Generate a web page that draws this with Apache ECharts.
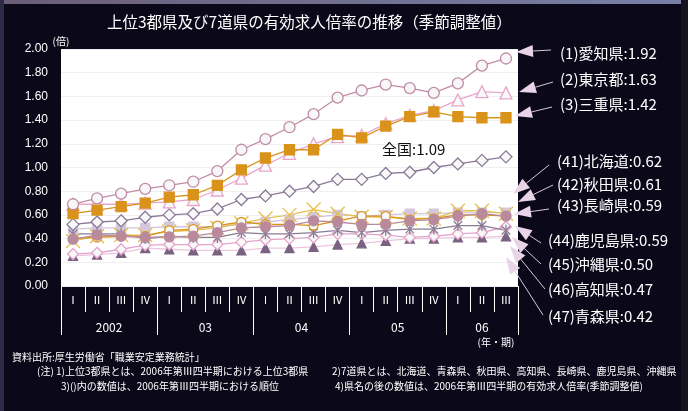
<!DOCTYPE html>
<html><head><meta charset="utf-8">
<script src="https://cdn.jsdelivr.net/npm/echarts@6.0.0/dist/echarts.min.js"></script>
<style>html,body{margin:0;padding:0;background:#0b0919;}#c{width:688px;height:411px;}</style>
</head><body><div id="c"></div>
<script>
// ---------- data ----------
const quarters = ['Ⅰ','Ⅱ','Ⅲ','Ⅳ','Ⅰ','Ⅱ','Ⅲ','Ⅳ','Ⅰ','Ⅱ','Ⅲ','Ⅳ','Ⅰ','Ⅱ','Ⅲ','Ⅳ','Ⅰ','Ⅱ','Ⅲ'];
const yearLabels = ['2002','03','04','05','06'];
const yearBounds = [0,4,8,12,16,19];

const aichi     = [0.69,0.74,0.78,0.82,0.85,0.88,0.97,1.15,1.24,1.34,1.45,1.59,1.65,1.70,1.67,1.63,1.71,1.86,1.92];
const tokyo     = [0.69,0.69,0.69,0.70,0.71,0.73,0.81,0.91,1.02,1.12,1.20,1.26,1.27,1.37,1.44,1.48,1.57,1.64,1.63];
const mie       = [0.61,0.64,0.67,0.70,0.75,0.77,0.85,0.98,1.08,1.15,1.15,1.28,1.25,1.35,1.43,1.47,1.43,1.42,1.42];
const zenkoku   = [0.52,0.54,0.55,0.58,0.60,0.61,0.65,0.73,0.76,0.80,0.84,0.90,0.90,0.95,0.96,1.00,1.03,1.06,1.09];
const hokkaido  = [0.48,0.49,0.49,0.49,0.50,0.50,0.50,0.52,0.54,0.56,0.58,0.60,0.59,0.60,0.61,0.61,0.62,0.62,0.62];
const akita     = [0.38,0.42,0.43,0.43,0.46,0.47,0.49,0.53,0.57,0.60,0.645,0.61,0.585,0.58,0.57,0.57,0.635,0.635,0.61];
const nagasaki  = [0.40,0.41,0.42,0.42,0.47,0.48,0.51,0.54,0.52,0.52,0.51,0.55,0.59,0.59,0.56,0.57,0.60,0.60,0.59];
const kagoshima = [0.395,0.43,0.42,0.41,0.415,0.42,0.45,0.49,0.50,0.51,0.55,0.54,0.52,0.52,0.55,0.56,0.59,0.61,0.59];
const okinawa   = [0.27,0.28,0.31,0.345,0.35,0.35,0.35,0.37,0.39,0.40,0.41,0.44,0.44,0.43,0.41,0.42,0.44,0.45,0.50];
const kochi     = [0.44,0.44,0.44,0.40,0.42,0.41,0.41,0.45,0.44,0.44,0.45,0.47,0.45,0.47,0.48,0.48,0.51,0.51,0.47];
const aomori    = [0.255,0.265,0.28,0.32,0.31,0.30,0.30,0.30,0.32,0.32,0.33,0.35,0.36,0.38,0.40,0.40,0.41,0.41,0.42];

const calloutNames  = ['(1)愛知県','(2)東京都','(3)三重県','(41)北海道','(42)秋田県','(43)長崎県','(44)鹿児島県','(45)沖縄県','(46)高知県','(47)青森県'];
const calloutValues = [1.92,1.63,1.42,0.62,0.61,0.59,0.59,0.50,0.47,0.42];
const nationalLabel = '全国';
const nationalValue = 1.09;

const titleText = '上位3都県及び7道県の有効求人倍率の推移（季節調整値）';
const notes = [
  '資料出所:厚生労働省「職業安定業務統計」',
  '(注) 1)上位3都県とは、2006年第Ⅲ四半期における上位3都県',
  '2)7道県とは、北海道、青森県、秋田県、高知県、長崎県、鹿児島県、沖縄県',
  '3)()内の数値は、2006年第Ⅲ四半期における順位',
  '4)県名の後の数値は、2006年第Ⅲ四半期の有効求人倍率(季節調整値)'
];

// ---------- styles / layout ----------
const JP = '"Noto Sans CJK JP", sans-serif';
const X_PATH = 'path://M0,0L10,10M10,0L0,10';
const AST_PATH = 'path://M0,0L10,10M10,0L0,10M5,-1.5L5,11.5';

const seriesDefs = [
  {name:'北海道', data:hokkaido, symbol:'rect', size:9, line:'#d4c6dc', fill:'#d4c6dc', border:'#d4c6dc'},
  {name:'青森県', data:aomori, symbol:'triangle', size:9, line:'#ecc6de', fill:'#7a6282', border:'#7a6282'},
  {name:'沖縄県', data:okinawa, symbol:'diamond', size:11, line:'#e4a4cc', fill:'#f8f8f8', border:'#e4a4cc'},
  {name:'高知県', data:kochi, symbol:AST_PATH, size:11, line:'#8a7c94', fill:'rgba(0,0,0,0)', border:'#8a7c94'},
  {name:'秋田県', data:akita, symbol:X_PATH, size:14, line:'#e6c04e', fill:'rgba(0,0,0,0)', border:'#e6c04e'},
  {name:'長崎県', data:nagasaki, symbol:'circle', size:9, line:'#d9921a', fill:'#f8f8f8', border:'#d9921a'},
  {name:'鹿児島県', data:kagoshima, symbol:'circle', size:10, line:'#b98a9c', fill:'#b98a9c', border:'#b98a9c'},
  {name:'全国', data:zenkoku, symbol:'diamond', size:12, line:'#8a7a98', fill:'#f8f8f8', border:'#8a7a98'},
  {name:'東京都', data:tokyo, symbol:'triangle', size:12, line:'#e8a6cc', fill:'#f8f8f8', border:'#e8a6cc'},
  {name:'三重県', data:mie, symbol:'rect', size:10, line:'#d9921a', fill:'#d9921a', border:'#d9921a'},
  {name:'愛知県', data:aichi, symbol:'circle', size:11, line:'#c08ca6', fill:'#f7f7f7', border:'#c08ca6'}
];

// callout annotation layout (label anchor, arrow tail, arrow tip)
const calloutLayout = [
  {lx:560, ly:53,  tail:[551,50],  tip:[516,52]},
  {lx:560, ly:79,  tail:[553,82],  tip:[519,92]},
  {lx:560, ly:104, tail:[552,107], tip:[515,116]},
  {lx:557, ly:161, tail:[549,165], tip:[513,194]},
  {lx:557, ly:184, tail:[553,185], tip:[518,202]},
  {lx:557, ly:205, tail:[549,209], tip:[514,214]},
  {lx:548, ly:240, tail:[541,243], tip:[515,226]},
  {lx:548, ly:264, tail:[541,264], tip:[512,237]},
  {lx:548, ly:289, tail:[545,289], tip:[510,246]},
  {lx:548, ly:316, tail:[543,315], tip:[506,257]}
];
const noteLayout = [[12,357],[37,371],[332,371],[61,386],[335,386]];

// ---------- chart ----------
const chart = echarts.init(document.getElementById('c'), null, {renderer:'canvas'});

const series = seriesDefs.map(d => ({
  name: d.name, type:'line', data:d.data, xAxisIndex:0, yAxisIndex:0,
  symbol:d.symbol, symbolSize:d.size, showAllSymbol:true, symbolKeepAspect:true,
  lineStyle:{color:d.line, width:1.3},
  itemStyle:{color:d.fill, borderColor:d.border, borderWidth:1.3},
  emphasis:{disabled:true}, animation:false
}));

const yearCenters = yearBounds.slice(0,-1).map((b,i)=> (b + yearBounds[i+1]) / 2);

const graphics = [];
// frame strips
graphics.push({type:'rect', shape:{x:0,y:0,width:688,height:4}, style:{fill:new echarts.graphic.LinearGradient(0,0,1,0,[{offset:0,color:'#6a5e78'},{offset:1,color:'#7880a8'}])}, silent:true, z:0});
graphics.push({type:'rect', shape:{x:0,y:0,width:4,height:411}, style:{fill:'#2c2a44'}, silent:true, z:0});
graphics.push({type:'rect', shape:{x:681,y:0,width:7,height:411}, style:{fill:'#16141f'}, silent:true, z:0});
// title
graphics.push({type:'text', x:107, y:22, style:{text:titleText, fill:'#fff', font:'15.5px ' + JP, align:'left', verticalAlign:'middle'}, z:10});
// unit
graphics.push({type:'text', x:61, y:41, style:{text:'(倍)', fill:'#fff', font:'10px ' + JP, align:'center', verticalAlign:'middle'}, z:10});
// period unit
graphics.push({type:'text', x:496, y:342, style:{text:'(年・期)', fill:'#fff', font:'10px ' + JP, align:'center', verticalAlign:'middle'}, z:10});
// national label
graphics.push({type:'text', x:382, y:149, style:{text:nationalLabel + ':' + nationalValue.toFixed(2), fill:'#111', font:'15px ' + JP, align:'left', verticalAlign:'middle'}, z:10});
// notes
notes.forEach((t,i)=>{
  graphics.push({type:'text', x:noteLayout[i][0], y:noteLayout[i][1], style:{text:t, fill:'#fff', font:'10px ' + JP, align:'left', verticalAlign:'middle'}, z:10});
});
// callouts
calloutNames.forEach((n,i)=>{
  const L = calloutLayout[i];
  graphics.push({type:'text', x:L.lx, y:L.ly, style:{text:n + ':' + calloutValues[i].toFixed(2), fill:'#fff', font:'15px ' + JP, align:'left', verticalAlign:'middle'}, z:10});
  const dx = L.tip[0]-L.tail[0], dy = L.tip[1]-L.tail[1];
  const len = Math.hypot(dx,dy), ux = dx/len, uy = dy/len;
  const AL = 17, AW = 12;
  const bx = L.tip[0]-ux*AL, by = L.tip[1]-uy*AL;
  const nx = -uy, ny = ux;
  graphics.push({type:'line', shape:{x1:L.tail[0], y1:L.tail[1], x2:bx, y2:by}, style:{stroke:'#dcc6da', lineWidth:1}, z:20, silent:true});
  graphics.push({type:'polygon', shape:{points:[[L.tip[0],L.tip[1]],[bx+nx*AW/2, by+ny*AW/2],[bx-nx*AW/2, by-ny*AW/2]]}, style:{fill:'#e8d4e6'}, z:21, silent:true});
});

chart.setOption({
  backgroundColor:'#0b0919',
  animation:false,
  grid:{left:61, right:170, top:49, bottom:125, show:true, backgroundColor:'#ffffff', borderWidth:0, containLabel:false},
  xAxis:[
    {type:'category', data:quarters, boundaryGap:true, position:'bottom',
     axisLine:{show:false},
     axisTick:{show:true, interval:0, length:26, lineStyle:{color:'#ffffff', width:1}},
     axisLabel:{interval:0, color:'#ffffff', fontSize:11, margin:8, fontFamily:JP},
     splitLine:{show:false}},
    {type:'value', min:0, max:19, position:'bottom',
     axisLine:{show:false}, splitLine:{show:false},
     axisTick:{show:true, customValues:yearBounds, length:49, lineStyle:{color:'#ffffff', width:1}},
     axisLabel:{customValues:yearCenters, color:'#ffffff', fontSize:12, margin:35, fontFamily:JP,
       formatter:(v)=>{ const i = yearCenters.indexOf(v); return i >= 0 ? yearLabels[i] : ''; }}}
  ],
  yAxis:{type:'value', min:0, max:2, interval:0.2,
    axisLine:{show:false}, axisTick:{show:false},
    axisLabel:{color:'#ffffff', fontSize:12, margin:13, fontFamily:'"Liberation Sans", Arial, sans-serif', formatter:(v)=>v.toFixed(2)},
    splitLine:{show:true, lineStyle:{color:'#efefef', width:1}}},
  series: series,
  graphic: graphics
});
</script></body></html>
